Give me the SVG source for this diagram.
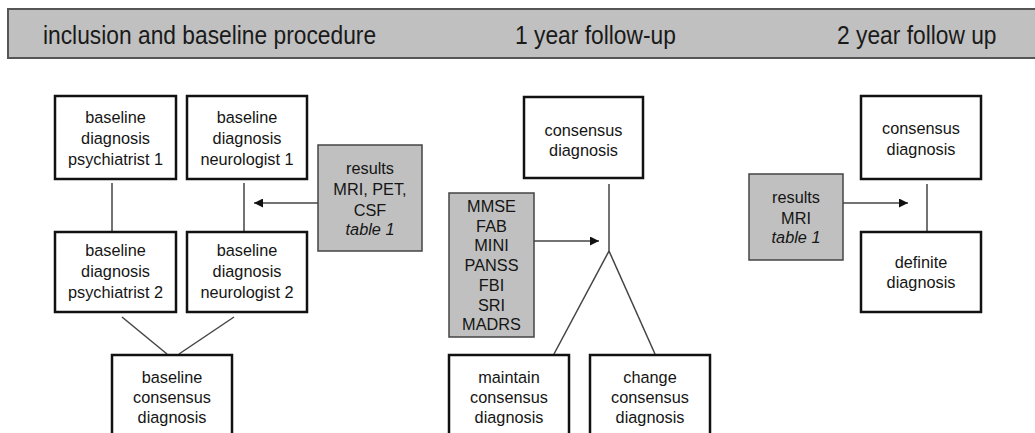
<svg xmlns="http://www.w3.org/2000/svg" width="1035" height="433" viewBox="0 0 1035 433">
<defs>
<style>
.box{fill:#fff;stroke:#111;stroke-width:2.5}
.gbox{fill:#c0c0c0;stroke:#444;stroke-width:1.5}
.t{font-family:"Liberation Sans",Arial,sans-serif;font-size:16.3px;fill:#151515;text-anchor:middle}
.h{font-family:"Liberation Sans",Arial,sans-serif;font-size:22.8px;fill:#1a1a1a}
.ln{stroke:#444;stroke-width:1.5;fill:none}
.it{font-style:italic}
</style>
<marker id="arr" viewBox="0 0 10 10" refX="10" refY="5" markerWidth="9" markerHeight="9" markerUnits="userSpaceOnUse" orient="auto">
<path d="M0,0 L10,5 L0,10 z" fill="#111"/>
</marker>
</defs>
<rect width="1035" height="433" fill="#fff"/>
<g id="header">
<rect x="8" y="9" width="1040" height="49" fill="#c0c0c0" stroke="#555" stroke-width="2"/>
<text class="h" transform="translate(43,44) scale(1,1.15)">inclusion and baseline procedure</text>
<text class="h" transform="translate(515,44) scale(1,1.15)">1 year follow-up</text>
<text class="h" transform="translate(837,44) scale(1,1.15)">2 year follow up</text>
</g>
<g id="connectors">
<line class="ln" x1="112" y1="183" x2="112" y2="232"/>
<line class="ln" x1="244" y1="183" x2="244" y2="232"/>
<line class="ln" x1="318" y1="203" x2="254" y2="203" marker-end="url(#arr)"/>
<line class="ln" x1="122" y1="317" x2="167" y2="354"/>
<line class="ln" x1="234" y1="317" x2="179" y2="354"/>
<line class="ln" x1="609" y1="184" x2="609" y2="251"/>
<line class="ln" x1="609" y1="251" x2="554" y2="354"/>
<line class="ln" x1="609" y1="251" x2="655" y2="354"/>
<line class="ln" x1="534" y1="241" x2="599" y2="241" marker-end="url(#arr)"/>
<line class="ln" x1="927" y1="184" x2="927" y2="232"/>
<line class="ln" x1="843" y1="203" x2="908" y2="203" marker-end="url(#arr)"/>
</g>
<g id="psychiatrist1">
<rect class="box" x="55" y="96" width="121" height="83"/>
<text class="t" x="115.5" y="123">baseline</text>
<text class="t" x="115.5" y="144">diagnosis</text>
<text class="t" x="115.5" y="165">psychiatrist 1</text>
</g>
<g id="neurologist1">
<rect class="box" x="187" y="96" width="120" height="83"/>
<text class="t" x="247" y="123">baseline</text>
<text class="t" x="247" y="144">diagnosis</text>
<text class="t" x="247" y="165">neurologist 1</text>
</g>
<g id="psychiatrist2">
<rect class="box" x="55" y="232" width="121" height="80"/>
<text class="t" x="115.5" y="256">baseline</text>
<text class="t" x="115.5" y="277">diagnosis</text>
<text class="t" x="115.5" y="298">psychiatrist 2</text>
</g>
<g id="neurologist2">
<rect class="box" x="187" y="232" width="120" height="80"/>
<text class="t" x="247" y="256">baseline</text>
<text class="t" x="247" y="277">diagnosis</text>
<text class="t" x="247" y="298">neurologist 2</text>
</g>
<g id="baselineConsensus">
<rect class="box" x="112" y="355" width="120" height="95"/>
<text class="t" x="172" y="383">baseline</text>
<text class="t" x="172" y="403">consensus</text>
<text class="t" x="172" y="423">diagnosis</text>
</g>
<g id="results1">
<rect class="gbox" x="318" y="145" width="104" height="106"/>
<text class="t" x="370" y="174">results</text>
<text class="t" x="370" y="195">MRI, PET,</text>
<text class="t" x="370" y="216">CSF</text>
<text class="t it" x="370" y="235">table 1</text>
</g>
<g id="consensus1">
<rect class="box" x="524" y="97" width="119" height="81"/>
<text class="t" x="583.5" y="136">consensus</text>
<text class="t" x="583.5" y="156">diagnosis</text>
</g>
<g id="scales">
<rect class="gbox" x="449" y="193" width="85" height="144"/>
<text class="t" x="491.5" y="212">MMSE</text>
<text class="t" x="491.5" y="231.7">FAB</text>
<text class="t" x="491.5" y="251.4">MINI</text>
<text class="t" x="491.5" y="271.1">PANSS</text>
<text class="t" x="491.5" y="290.8">FBI</text>
<text class="t" x="491.5" y="310.5">SRI</text>
<text class="t" x="491.5" y="330.2">MADRS</text>
</g>
<g id="maintain">
<rect class="box" x="449" y="355" width="120" height="95"/>
<text class="t" x="509" y="383">maintain</text>
<text class="t" x="509" y="403">consensus</text>
<text class="t" x="509" y="423">diagnosis</text>
</g>
<g id="change">
<rect class="box" x="590" y="355" width="120" height="95"/>
<text class="t" x="650" y="383">change</text>
<text class="t" x="650" y="403">consensus</text>
<text class="t" x="650" y="423">diagnosis</text>
</g>
<g id="consensus2">
<rect class="box" x="861" y="96" width="120" height="83"/>
<text class="t" x="921" y="134">consensus</text>
<text class="t" x="921" y="155">diagnosis</text>
</g>
<g id="definite">
<rect class="box" x="861" y="232" width="120" height="80"/>
<text class="t" x="921" y="268">definite</text>
<text class="t" x="921" y="288">diagnosis</text>
</g>
<g id="resultsMRI">
<rect class="gbox" x="749" y="174" width="94" height="86"/>
<text class="t" x="796" y="203">results</text>
<text class="t" x="796" y="224">MRI</text>
<text class="t it" x="796" y="243">table 1</text>
</g>
</svg>
